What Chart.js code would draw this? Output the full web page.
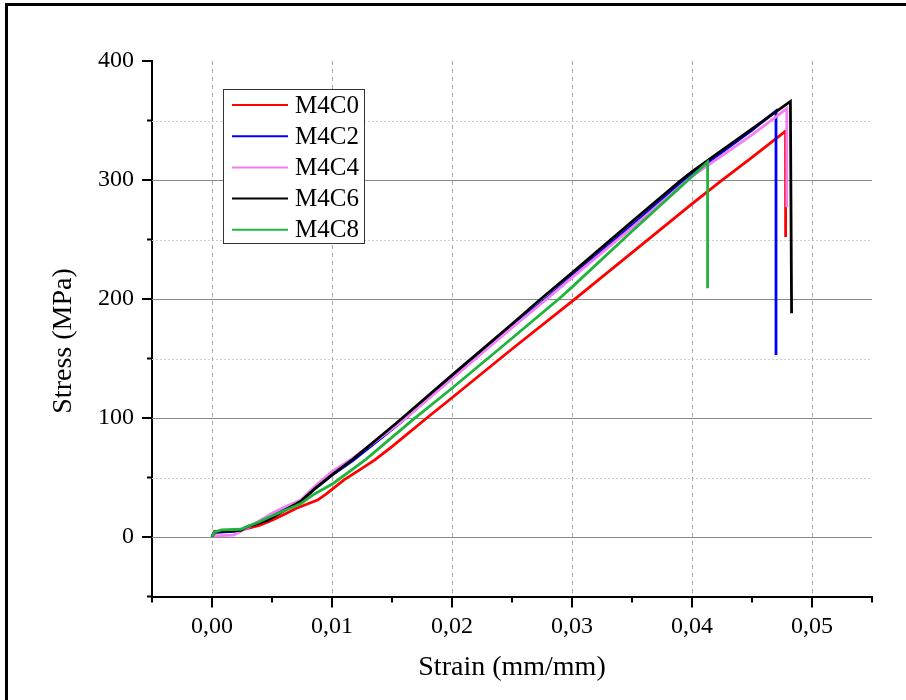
<!DOCTYPE html>
<html>
<head>
<meta charset="utf-8">
<script src="https://cdn.jsdelivr.net/npm/chart.js@4.4.1/dist/chart.umd.min.js"></script>
<style>
  html, body { margin: 0; padding: 0; background: #fff; }
  #wrap { width: 906px; height: 700px; }
</style>
</head>
<body>
<div id="wrap"><canvas id="stressChart" width="906" height="700"></canvas></div>
<script>
// Stress-strain curves
const seriesNames = ['M4C0', 'M4C2', 'M4C4', 'M4C6', 'M4C8'];
const seriesColors = ['#ff0000', '#0000ff', '#f47ef4', '#000000', '#1fb43c'];

const m4c0Strain = [0, 0.0003, 0.0025, 0.004, 0.005, 0.006, 0.007, 0.008, 0.0088, 0.0095, 0.010, 0.011, 0.0124, 0.0136, 0.015, 0.0179, 0.020, 0.025, 0.030, 0.035, 0.040, 0.0424, 0.045, 0.0478, 0.0478];
const m4c0Stress = [0, 4, 6, 10, 14, 19, 24, 28, 31, 36, 40, 48, 57, 65, 76, 100, 117, 158, 198, 239, 280, 299, 319, 341, 252];

const m4c2Strain = [0, 0.0002, 0.0022, 0.003, 0.004, 0.005, 0.006, 0.0074, 0.0085, 0.010, 0.0117, 0.0157, 0.020, 0.025, 0.0278, 0.030, 0.035, 0.0393, 0.040, 0.045, 0.0470, 0.0470];
const m4c2Stress = [0, 4, 5, 8, 13, 18, 23, 30, 40, 52, 64, 96, 134, 177, 200, 219, 262, 299, 305, 342, 358, 153];

const m4c4Strain = [0, 0.0002, 0.0018, 0.003, 0.004, 0.005, 0.006, 0.0074, 0.0085, 0.010, 0.0117, 0.0157, 0.020, 0.025, 0.0279, 0.030, 0.035, 0.0394, 0.040, 0.045, 0.0479, 0.0479];
const m4c4Stress = [0, 1, 1.5, 8, 14, 20, 25, 31, 42, 55, 66, 96, 133, 176, 200, 218, 260, 298, 303, 338, 360, 277];

const m4c6Strain = [0, 0.0002, 0.0024, 0.003, 0.004, 0.0046, 0.006, 0.0074, 0.0085, 0.0101, 0.0117, 0.0154, 0.020, 0.025, 0.0274, 0.030, 0.035, 0.039, 0.040, 0.045, 0.0482, 0.0483];
const m4c6Stress = [0, 4.5, 5.5, 9, 12, 14, 22, 30, 40, 53, 65, 96, 136, 179, 200, 222, 265, 299, 307, 343, 366, 188];

const m4c8Strain = [0, 0.0002, 0.0008, 0.0024, 0.003, 0.004, 0.0046, 0.006, 0.0074, 0.0085, 0.0101, 0.0128, 0.0168, 0.020, 0.025, 0.0289, 0.030, 0.035, 0.040, 0.0413, 0.0413];
const m4c8Stress = [0, 4, 6, 6.5, 9, 13, 16, 22, 28, 36, 45, 65, 99, 125, 167, 200, 210, 257, 303, 315, 209];

const strainSets = [m4c0Strain, m4c2Strain, m4c4Strain, m4c6Strain, m4c8Strain];
const stressSets = [m4c0Stress, m4c2Stress, m4c4Stress, m4c6Stress, m4c8Stress];

// axis ranges / ticks
const xMin = -0.005, xMax = 0.055, xStep = 0.005;
const yMin = -50, yMax = 400, yStep = 50;
const xLabelValues = [0, 0.01, 0.02, 0.03, 0.04, 0.05];
const yLabelValues = [0, 100, 200, 300, 400];

const serif = '"Liberation Serif", "Times New Roman", serif';

function isXMajor(v) {
  return xLabelValues.some(m => Math.abs(m - v) < 1e-9);
}
function isYMajor(v) {
  return yLabelValues.indexOf(v) !== -1;
}

const datasets = seriesNames.map((name, i) => ({
  label: name,
  data: strainSets[i].map((x, j) => ({ x: x, y: stressSets[i][j] })),
  borderColor: seriesColors[i],
  backgroundColor: seriesColors[i],
  borderWidth: 2.8,
  showLine: true,
  pointRadius: 0,
  tension: 0,
  // later series on top, like the original plot
  order: seriesNames.length - i
}));

const decorations = {
  id: 'decorations',
  beforeDraw(chart) {
    const ctx = chart.ctx;
    ctx.save();
    ctx.fillStyle = '#fff';
    ctx.fillRect(0, 0, chart.width, chart.height);
    // outer frame (top and left edges visible)
    ctx.fillStyle = '#000';
    ctx.fillRect(5, 3, chart.width - 5, 3);
    ctx.fillRect(5, 3, 3, chart.height - 3);
    ctx.restore();
  },
  beforeDatasetsDraw(chart) {
    const ctx = chart.ctx;
    const area = chart.chartArea;
    const xs = chart.scales.x, ys = chart.scales.y;
    ctx.save();
    ctx.lineWidth = 1;
    // horizontal grid: solid at hundreds, dotted at fifties
    ys.ticks.forEach(t => {
      const v = t.value;
      if (v <= yMin || v >= yMax) return;
      const py = Math.round(ys.getPixelForValue(v)) + 0.5;
      if (isYMajor(v)) {
        ctx.strokeStyle = '#8a8a8a';
        ctx.setLineDash([]);
      } else {
        ctx.strokeStyle = '#cfcfcf';
        ctx.setLineDash([2, 2]);
      }
      ctx.beginPath();
      ctx.moveTo(area.left, py);
      ctx.lineTo(area.right, py);
      ctx.stroke();
    });
    // vertical dashed grid at labelled strains
    ctx.strokeStyle = '#a8a8a8';
    ctx.setLineDash([4, 4]);
    xs.ticks.forEach(t => {
      if (!isXMajor(t.value)) return;
      const px = Math.round(xs.getPixelForValue(t.value)) + 0.5;
      ctx.beginPath();
      ctx.moveTo(px, area.top);
      ctx.lineTo(px, area.bottom);
      ctx.stroke();
    });
    ctx.restore();
  },
  afterDraw(chart) {
    const ctx = chart.ctx;
    const area = chart.chartArea;
    const xs = chart.scales.x, ys = chart.scales.y;
    ctx.save();
    ctx.strokeStyle = '#000';
    ctx.lineWidth = 2;
    ctx.setLineDash([]);
    // y ticks, pointing out
    ys.ticks.forEach(t => {
      const py = ys.getPixelForValue(t.value);
      const len = isYMajor(t.value) ? 10 : 5;
      ctx.beginPath();
      ctx.moveTo(area.left - len, py);
      ctx.lineTo(area.left, py);
      ctx.stroke();
    });
    // x ticks, pointing down
    xs.ticks.forEach(t => {
      const px = xs.getPixelForValue(t.value);
      const len = isXMajor(t.value) ? 11 : 6;
      ctx.beginPath();
      ctx.moveTo(px, area.bottom);
      ctx.lineTo(px, area.bottom + len);
      ctx.stroke();
    });

    // y axis title
    ctx.fillStyle = '#000';
    ctx.font = '28px ' + serif;
    ctx.textAlign = 'center';
    ctx.textBaseline = 'middle';
    ctx.save();
    ctx.translate(64, 341);
    ctx.rotate(-Math.PI / 2);
    ctx.fillText('Stress (MPa)', 0, 0);
    ctx.restore();

    // legend box
    const bx = 223.5, by = 89.5, bw = 141, bh = 154;
    ctx.fillStyle = '#fff';
    ctx.fillRect(bx, by, bw, bh);
    ctx.lineWidth = 1;
    ctx.strokeStyle = '#333';
    ctx.strokeRect(bx, by, bw, bh);
    ctx.font = '25px ' + serif;
    ctx.textAlign = 'left';
    ctx.textBaseline = 'middle';
    chart.data.datasets.forEach((ds, i) => {
      const ly = 105 + i * 31.2;
      ctx.strokeStyle = ds.borderColor;
      ctx.lineWidth = 2;
      ctx.beginPath();
      ctx.moveTo(232, ly);
      ctx.lineTo(288, ly);
      ctx.stroke();
      ctx.fillStyle = '#000';
      ctx.fillText(ds.label, 295, ly + 1);
    });
    ctx.restore();
  }
};

new Chart(document.getElementById('stressChart').getContext('2d'), {
  type: 'scatter',
  data: { datasets: datasets },
  options: {
    responsive: false,
    animation: false,
    devicePixelRatio: 1,
    layout: { padding: { left: 30, right: 34, top: 61, bottom: 3.5 } },
    plugins: {
      legend: { display: false },
      tooltip: { enabled: false }
    },
    scales: {
      x: {
        type: 'linear',
        min: xMin,
        max: xMax,
        afterFit: (scale) => { scale.height = 100; },
        grid: { display: false, drawTicks: false },
        border: { display: true, color: '#000', width: 2 },
        ticks: {
          stepSize: xStep,
          autoSkip: false,
          maxRotation: 0,
          padding: 16,
          color: '#000',
          font: { family: serif, size: 24 },
          callback: (v) => isXMajor(v) ? v.toFixed(2).replace('.', ',') : ''
        },
        title: {
          display: true,
          text: 'Strain (mm/mm)',
          color: '#000',
          font: { family: serif, size: 28 },
          padding: { top: 0, bottom: 12 }
        }
      },
      y: {
        type: 'linear',
        min: yMin,
        max: yMax,
        afterFit: (scale) => { scale.width = 122; },
        grid: { display: false, drawTicks: false },
        border: { display: true, color: '#000', width: 2 },
        ticks: {
          stepSize: yStep,
          autoSkip: false,
          padding: 18,
          color: '#000',
          font: { family: serif, size: 24 },
          callback: (v) => isYMajor(v) ? String(v) : ''
        }
      }
    }
  },
  plugins: [decorations]
});
</script>
</body>
</html>
